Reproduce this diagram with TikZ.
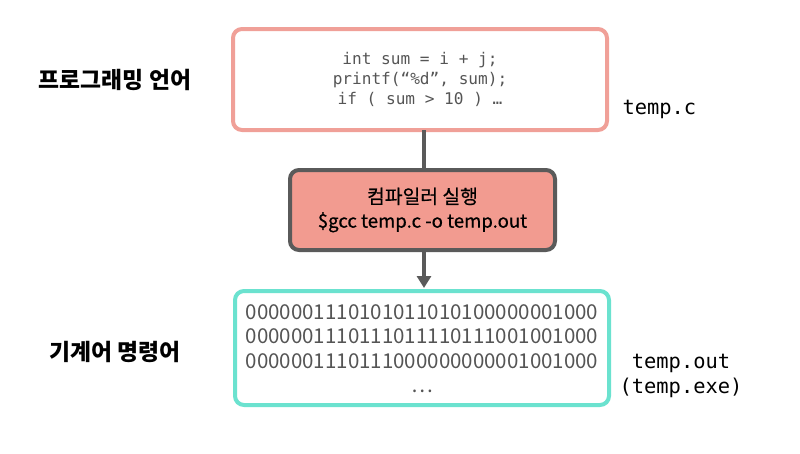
\documentclass[tikz,border=0pt]{standalone}
\usepackage{fontspec}
\setmainfont{Noto Sans CJK KR}
\setmonofont{DejaVu Sans Mono}
\usetikzlibrary{arrows.meta}
\definecolor{pinkline}{HTML}{F0A098}
\definecolor{salmon}{HTML}{F29B90}
\definecolor{darkgray}{HTML}{5A5A5A}
\definecolor{tealline}{HTML}{6BE2CF}
\definecolor{txtgray}{HTML}{555555}
\begin{document}
\begin{tikzpicture}[x=1pt,y=-1pt,
  box/.style={rounded corners=9pt, line width=4pt, inner sep=0pt},
  conn/.style={draw=darkgray, line width=4pt},
  label/.style={font=\fontsize{22.8}{26}\selectfont\bfseries, anchor=center},
  fname/.style={font=\fontsize{20.4}{24.5}\ttfamily, align=center}]
\useasboundingbox (0,0) rectangle (800,453);
% boxes
\node[box, draw=pinkline, fill=white, minimum width=374pt, minimum height=101pt] (src) at (420,79.5) {};
\node[font=\fontsize{16.1}{20}\ttfamily, text=txtgray, align=center] (code) at (420,79)
  {int sum = i + j;\\printf(“\%d”, sum);\\if ( sum > 10 ) …};
\node[box, draw=darkgray, fill=salmon, minimum width=265pt, minimum height=80pt] (cc) at (422.5,210) {};
\node[font=\fontsize{18.6}{24}\selectfont\addfontfeature{FakeBold=0.6}, text=black, align=center] (cctxt) at (422.5,210)
  {{\fontsize{19.3}{24}\selectfont 컴파일러 실행}\\\$gcc temp.c -o temp.out};
\node[box, draw=tealline, fill=white, minimum width=374pt, minimum height=114pt] (bin) at (422,348) {};
\node[font=\fontsize{20.5}{24.5}\selectfont, text=txtgray, align=center] (bintxt) at (422,348.5)
  {0000001110101011010100000001000\\0000001110111011110111001001000\\0000001110111000000000001001000\\…};
% labels
\node[label] (pl) at (115,80) {프로그래밍 언어};
\node[label] (ml) at (115,352) {기계어 명령어};
\node[fname, anchor=west] (tc) at (619,109) {temp.c};
\node[fname] (to) at (681,376) {temp.out\\(temp.exe)};
% connectors
\draw[conn] (424,130) coordinate (p1) -- (cc.north -| p1);
\draw[conn, -{Triangle[length=12pt,width=14pt]}, shorten >=1pt] (cc.south -| p1) -- (bin.north -| p1);
\end{tikzpicture}
\end{document}
